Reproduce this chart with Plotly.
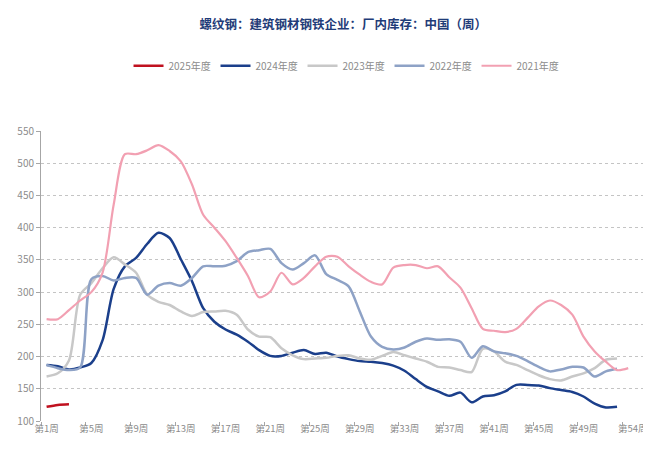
import plotly.graph_objects as go

weeks = list(range(1, 55))
tick_weeks = [1, 5, 9, 13, 17, 21, 25, 29, 33, 37, 41, 45, 49, 54]
tick_labels = ["第%d周" % w for w in tick_weeks]
boundary_ticks = [0.5, 4.5, 8.5, 12.5, 16.5, 20.5, 24.5, 28.5, 32.5, 36.5, 40.5, 44.5, 48.5, 52.5]

y2025 = [122, 125, 126]
y2024 = [187, 185, 180, 183, 190, 225, 305, 340, 353, 375, 392, 384, 351, 317, 275, 254, 242, 234,
         223, 210, 201, 201, 206, 210, 204, 206, 200, 196, 193, 192, 190, 186, 178, 165, 153, 146,
         139, 144, 129, 138, 140, 146, 156, 156, 155, 151, 148, 145, 138, 127, 121, 122]
y2023 = [169, 174, 194, 296, 314, 337, 354, 343, 330, 296, 285, 280, 270, 263, 269, 270, 271, 265,
         242, 231, 230, 213, 202, 196, 197, 198, 201, 202, 197, 195, 201, 207, 202, 197, 192, 184,
         183, 179, 176, 212, 208, 192, 187, 179, 171, 165, 163, 169, 174, 182, 195, 197]
y2022 = [187, 182, 179, 183, 320, 325, 318, 322, 322, 296, 310, 314, 310, 322, 340, 340, 341, 348,
         362, 365, 367, 345, 335, 345, 357, 328, 319, 309, 270, 231, 215, 211, 214, 223, 228, 226,
         227, 223, 198, 216, 208, 205, 201, 193, 184, 177, 180, 184, 183, 169, 177, 181]
y2021 = [258, 258, 272, 287, 300, 330, 436, 514, 514, 520, 528, 519, 503, 467, 420, 400, 379, 353,
         325, 292, 301, 330, 312, 322, 340, 355, 355, 340, 327, 316, 312, 338, 342, 342, 337, 340,
         323, 307, 275, 243, 240, 238, 243, 260, 278, 287, 280, 265, 231, 208, 192, 179, 182]

series = [
    ("2025年度", y2025, "#c0111f", 2.5),
    ("2024年度", y2024, "#1b3f8b", 2.5),
    ("2023年度", y2023, "#c8c8c8", 2.5),
    ("2022年度", y2022, "#8ea2c6", 2.5),
    ("2021年度", y2021, "#f2a0b2", 2.2),
]

FONT = "Liberation Sans Narrow, Noto Sans CJK SC, sans-serif"

# label positions (last label sits slightly left of its week, as in the source)
label_pos = [float(w) for w in tick_weeks]
label_pos[-1] = tick_weeks[-1] - 0.6

fig = go.Figure()
for name, ys, color, w in series:
    fig.add_trace(go.Scatter(
        x=weeks[:len(ys)], y=ys, name=name, mode="lines",
        line=dict(color=color, width=w, shape="spline", smoothing=0.8),
    ))
# invisible trace to carry the label axis
fig.add_trace(go.Scatter(x=[1], y=[100], xaxis="x2", showlegend=False,
                         mode="markers", marker=dict(opacity=0), hoverinfo="skip"))

fig.update_layout(
    width=651, height=450,
    margin=dict(l=33, r=14, t=123, b=37, autoexpand=False),
    paper_bgcolor="white", plot_bgcolor="white",
    title=dict(text="<b>螺纹钢：建筑钢材钢铁企业：厂内库存：中国（周）</b>",
               x=0.515, xanchor="center", y=0.962, yanchor="middle",
               font=dict(family="Noto Sans CJK SC, serif", size=12.5, color="#1f3c78")),
    legend=dict(orientation="h", x=0.505, xanchor="center", y=1.225, yanchor="middle",
                font=dict(family=FONT, size=10, color="#8c8c8c"),
                traceorder="normal", itemwidth=30, entrywidth=42, entrywidthmode="pixels"),
    xaxis=dict(range=[0.5, 54.5], showgrid=False, zeroline=False, automargin=False,
               tickmode="array", tickvals=boundary_ticks, showticklabels=False,
               ticks="outside", ticklen=4, tickcolor="#a6a6a6", showline=False),
    xaxis2=dict(range=[0.5, 54.5], overlaying="x", side="bottom", anchor="y",
                matches="x", showgrid=False, zeroline=False, automargin=False,
                tickmode="array", tickvals=label_pos, ticktext=tick_labels, ticks="",
                ticklabeloverflow="allow",
                tickfont=dict(family=FONT, size=9.5, color="#8c8c8c")),
    yaxis=dict(range=[100, 550], dtick=50, tick0=100, showgrid=True, gridcolor="#c4c4c4",
               griddash="dot", gridwidth=1, zeroline=False, showline=True, linecolor="#a6a6a6",
               linewidth=1, ticks="outside", ticklen=4, tickcolor="#a6a6a6", automargin=False,
               tickfont=dict(family=FONT, size=10, color="#8c8c8c")),
    shapes=[dict(type="line", xref="paper", yref="paper", x0=1, x1=1, y0=0, y1=1,
                 line=dict(color="#c8c8c8", width=1))],
    showlegend=True,
)

fig.write_html("out.html")
